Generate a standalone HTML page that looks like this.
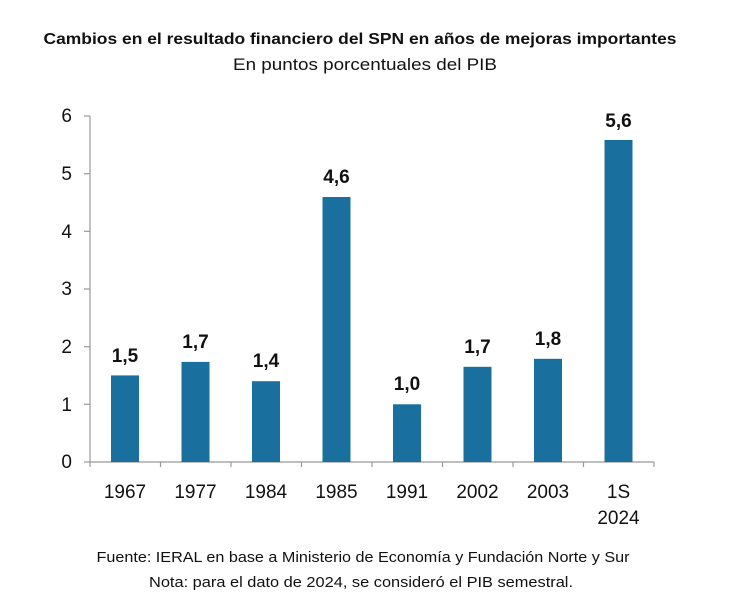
<!DOCTYPE html>
<html><head><meta charset="utf-8"><style>
body{margin:0;background:#fff;}
svg text{font-family:"Liberation Sans",sans-serif;fill:#111;}
</style></head><body>
<svg width="730" height="608" xmlns="http://www.w3.org/2000/svg">
<rect width="730" height="608" fill="#fff"/>
<text x="360" y="44" text-anchor="middle" font-size="16" font-weight="bold" textLength="633" lengthAdjust="spacingAndGlyphs">Cambios en el resultado financiero del SPN en años de mejoras importantes</text>
<text x="365" y="70" text-anchor="middle" font-size="17" textLength="264" lengthAdjust="spacingAndGlyphs">En puntos porcentuales del PIB</text>
<g stroke="#999" stroke-width="1.2">
<line x1="90" y1="116" x2="90" y2="462"/>
<line x1="90" y1="462" x2="654" y2="462"/>
<line x1="84" y1="116" x2="90" y2="116"/><line x1="84" y1="173.7" x2="90" y2="173.7"/>
<line x1="84" y1="231.3" x2="90" y2="231.3"/><line x1="84" y1="289" x2="90" y2="289"/>
<line x1="84" y1="346.7" x2="90" y2="346.7"/><line x1="84" y1="404.3" x2="90" y2="404.3"/>
<line x1="84" y1="462" x2="90" y2="462"/>
<line x1="90" y1="462" x2="90" y2="467"/><line x1="160.5" y1="462" x2="160.5" y2="467"/>
<line x1="231" y1="462" x2="231" y2="467"/><line x1="301.5" y1="462" x2="301.5" y2="467"/>
<line x1="372" y1="462" x2="372" y2="467"/><line x1="442.5" y1="462" x2="442.5" y2="467"/>
<line x1="513" y1="462" x2="513" y2="467"/><line x1="583.5" y1="462" x2="583.5" y2="467"/>
<line x1="654" y1="462" x2="654" y2="467"/>
</g>
<g font-size="19" text-anchor="end">
<text x="72" y="122">6</text><text x="72" y="180">5</text><text x="72" y="238">4</text>
<text x="72" y="295">3</text><text x="72" y="353">2</text><text x="72" y="411">1</text><text x="72" y="468">0</text>
</g>
<g fill="#19709e">
<rect x="111" y="375.4" width="28" height="86.6"/>
<rect x="181.5" y="361.9" width="28" height="100.1"/>
<rect x="252" y="381.2" width="28" height="80.8"/>
<rect x="322.5" y="197" width="28" height="265"/>
<rect x="393" y="404.3" width="28" height="57.7"/>
<rect x="463.5" y="366.8" width="28" height="95.2"/>
<rect x="534" y="358.8" width="28" height="103.2"/>
<rect x="604.5" y="140" width="28" height="322"/>
</g>
<g font-size="19" font-weight="bold" text-anchor="middle">
<text x="125" y="362">1,5</text><text x="195.5" y="348">1,7</text><text x="266" y="367">1,4</text>
<text x="336.5" y="183">4,6</text><text x="407" y="390">1,0</text><text x="477.5" y="353">1,7</text>
<text x="548" y="345">1,8</text><text x="618.5" y="127">5,6</text>
</g>
<g font-size="19" text-anchor="middle">
<text x="125" y="498">1967</text><text x="195.5" y="498">1977</text><text x="266" y="498">1984</text>
<text x="336.5" y="498">1985</text><text x="407" y="498">1991</text><text x="477.5" y="498">2002</text>
<text x="548" y="498">2003</text><text x="618.5" y="498">1S</text><text x="618.5" y="524">2024</text>
</g>
<text x="363" y="562" text-anchor="middle" font-size="15" textLength="533" lengthAdjust="spacingAndGlyphs">Fuente: IERAL en base a Ministerio de Economía y Fundación Norte y Sur</text>
<text x="361" y="587" text-anchor="middle" font-size="15" textLength="424" lengthAdjust="spacingAndGlyphs">Nota: para el dato de 2024, se consideró el PIB semestral.</text>
</svg>
</body></html>
